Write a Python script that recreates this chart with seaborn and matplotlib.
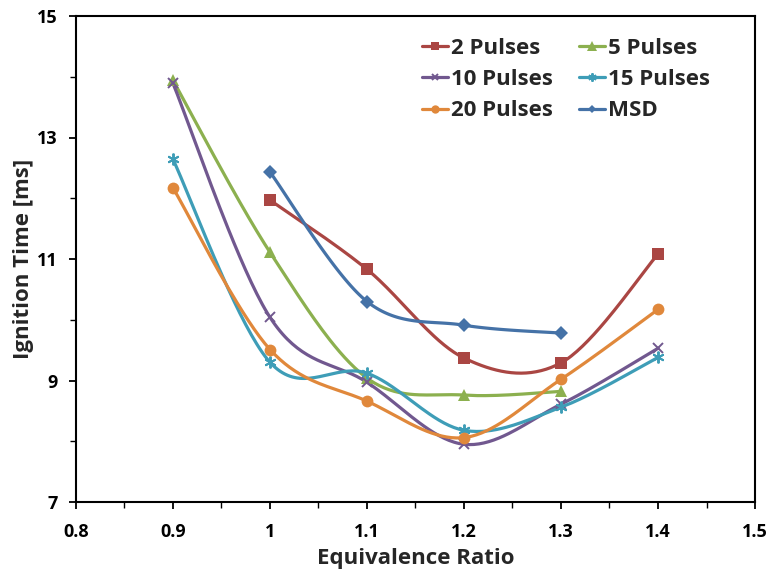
import numpy as np
import pandas as pd
import seaborn as sns
import matplotlib
matplotlib.use("Agg")
import matplotlib.pyplot as plt
from matplotlib.lines import Line2D
from matplotlib.ticker import MultipleLocator

# Ignition time [ms] against equivalence ratio for each ignition strategy
series_names = ["2 Pulses", "5 Pulses", "10 Pulses", "15 Pulses", "20 Pulses", "MSD"]

phi_2 = [1.0, 1.1, 1.2, 1.3, 1.4]
time_2 = [11.97, 10.83, 9.37, 9.29, 11.08]

phi_5 = [0.9, 1.0, 1.1, 1.2, 1.3]
time_5 = [13.94, 11.11, 9.04, 8.76, 8.82]

phi_10 = [0.9, 1.0, 1.1, 1.2, 1.3, 1.4]
time_10 = [13.89, 10.04, 8.97, 7.95, 8.61, 9.53]

phi_15 = [0.9, 1.0, 1.1, 1.2, 1.3, 1.4]
time_15 = [12.64, 9.30, 9.12, 8.18, 8.56, 9.38]

phi_20 = [0.9, 1.0, 1.1, 1.2, 1.3, 1.4]
time_20 = [12.17, 9.51, 8.66, 8.06, 9.02, 10.17]

phi_msd = [1.0, 1.1, 1.2, 1.3]
time_msd = [12.43, 10.30, 9.91, 9.78]

x_ticks = [0.8, 0.9, 1.0, 1.1, 1.2, 1.3, 1.4, 1.5]
x_tick_labels = ["0.8", "0.9", "1", "1.1", "1.2", "1.3", "1.4", "1.5"]
y_ticks = [7, 9, 11, 13, 15]

colors = ["#AA4643", "#8CB04F", "#71588F", "#3E9DB7", "#E0883B", "#4572A7"]
markers = ["s", "^", "x", (6, 2, 0), "o", "D"]
marker_sizes = [8.5, 9, 7.5, 8.5, 8.5, 7]

data = [(phi_2, time_2), (phi_5, time_5), (phi_10, time_10),
        (phi_15, time_15), (phi_20, time_20), (phi_msd, time_msd)]


def smooth_curve(x, y, n=40):
    """Cardinal (Catmull-Rom) Bezier smoothing through the given points."""
    p = np.column_stack([x, y]).astype(float)
    ext = np.vstack([p[0], p, p[-1]])
    out = []
    t = np.linspace(0, 1, n)[:, None]
    for i in range(1, len(ext) - 2):
        p0, p1, p2, p3 = ext[i - 1], ext[i], ext[i + 1], ext[i + 2]
        c1 = p1 + (p2 - p0) / 6.0
        c2 = p2 - (p3 - p1) / 6.0
        seg = ((1 - t) ** 3) * p1 + 3 * ((1 - t) ** 2) * t * c1 \
            + 3 * (1 - t) * t ** 2 * c2 + t ** 3 * p2
        out.append(seg if i == 1 else seg[1:])
    s = np.vstack(out)
    return s[:, 0], s[:, 1]


sns.set_theme(style="white", rc={"axes.edgecolor": "black", "axes.linewidth": 1.5,
                                  "xtick.color": "black", "ytick.color": "black"})
plt.rcParams["font.family"] = ["Open Sans", "DejaVu Sans"]
plt.rcParams["font.weight"] = "bold"

fig = plt.figure(figsize=(7.67, 5.72), dpi=100)
ax = fig.add_axes([76 / 767, 1 - 502 / 572, (755 - 76) / 767, (502 - 16) / 572])

handles = []
for name, (xs, ys), c, m, ms in zip(series_names, data, colors, markers, marker_sizes):
    sx, sy = smooth_curve(xs, ys)
    curve = pd.DataFrame({"phi": sx, "t": sy})
    sns.lineplot(data=curve, x="phi", y="t", ax=ax, color=c, linewidth=2.3,
                 sort=False, estimator=None, legend=False)
    mew = 1.4 if m in ("x", (6, 2, 0)) else 0
    ax.plot(xs, ys, linestyle="none", marker=m, markersize=ms,
            color=c, markeredgecolor=c, markeredgewidth=mew, zorder=4)
    handles.append(Line2D([0], [0], color=c, linewidth=2.3, marker=m,
                          markersize=ms - 2.5, markeredgewidth=mew, label=name))

ax.set_xlim(0.8, 1.5)
ax.set_ylim(7, 15)
ax.set_xticks(x_ticks)
ax.set_xticklabels(x_tick_labels)
ax.xaxis.set_minor_locator(MultipleLocator(0.05))
ax.set_yticks(y_ticks)
ax.set_yticklabels([str(v) for v in y_ticks])
ax.yaxis.set_minor_locator(MultipleLocator(1))

for sp in ax.spines.values():
    sp.set_visible(True)
    sp.set_color("black")
    sp.set_linewidth(1.5)

ax.tick_params(axis="both", which="major", direction="out", length=5, width=1.3,
               color="black", labelsize=13, labelcolor="black", pad=8,
               bottom=True, left=True)
ax.tick_params(axis="x", which="major", pad=10)
ax.tick_params(axis="both", which="minor", direction="out", length=4, width=1.0,
               color="black", bottom=True, left=True)
for lab in ax.get_xticklabels() + ax.get_yticklabels():
    lab.set_fontweight("bold")

ax.set_xlabel("Equivalence Ratio", fontsize=16, fontweight="bold", labelpad=5)
ax.set_ylabel("Ignition Time [ms]", fontsize=16, fontweight="bold", labelpad=2)

# two columns filled row by row
order = [0, 2, 4, 1, 3, 5]
leg = ax.legend(handles=[handles[i] for i in order], ncol=2, loc="upper left",
                bbox_to_anchor=((422 - 76) / 679, (502 - 38) / 486), frameon=False,
                borderpad=0, borderaxespad=0,
                prop={"size": 16, "weight": "bold"}, handlelength=1.15,
                handletextpad=0.15, columnspacing=1.2, labelspacing=0.46)

fig.savefig("out.png", dpi=100, facecolor="white")
